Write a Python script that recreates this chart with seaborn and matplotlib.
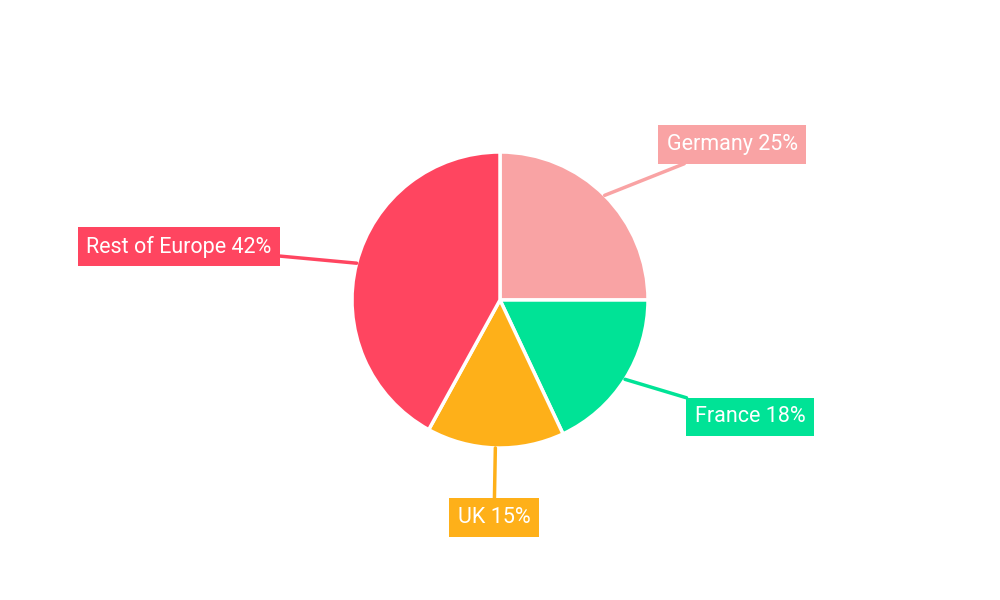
import matplotlib
matplotlib.use("Agg")
import matplotlib.pyplot as plt
import numpy as np
import seaborn as sns

sns.set_theme(style="white")
plt.rcParams['font.family'] = ['Roboto', 'DejaVu Sans']

labels = ['Germany', 'France', 'UK', 'Rest of Europe']
shares = [25, 18, 15, 42]
colors = ['#F9A3A4', '#00E396', '#FEB019', '#FF4560']
# label box centres, in pie-radius units
label_pos = [(1.57, 1.05), (1.69, -0.79), (-0.04, -1.47), (-2.17, 0.36)]

fig = plt.figure(figsize=(10, 6), dpi=100)
ax = fig.add_axes([0, 0, 1, 1])
scale = 148

wedges, _ = ax.pie(shares, colors=colors, startangle=90, counterclock=False,
                   radius=1, wedgeprops=dict(edgecolor='white', linewidth=2.5))

for w, lab, val, col, pos in zip(wedges, labels, shares, colors, label_pos):
    mid = np.deg2rad((w.theta1 + w.theta2) / 2)
    edge = (np.cos(mid), np.sin(mid))
    ax.annotate(f'{lab} {val}%', xy=edge, xytext=pos, ha='center', va='center',
                color='white', fontsize=15.5,
                bbox=dict(boxstyle='square,pad=0.4', fc=col, ec='none'),
                arrowprops=dict(arrowstyle='-', color=col, lw=2.5,
                                shrinkA=0, shrinkB=0))

ax.set_xlim(-500 / scale, 500 / scale)
ax.set_ylim(-300 / scale, 300 / scale)
ax.set_aspect('equal')
ax.axis('off')

fig.savefig('out.png', dpi=100)
